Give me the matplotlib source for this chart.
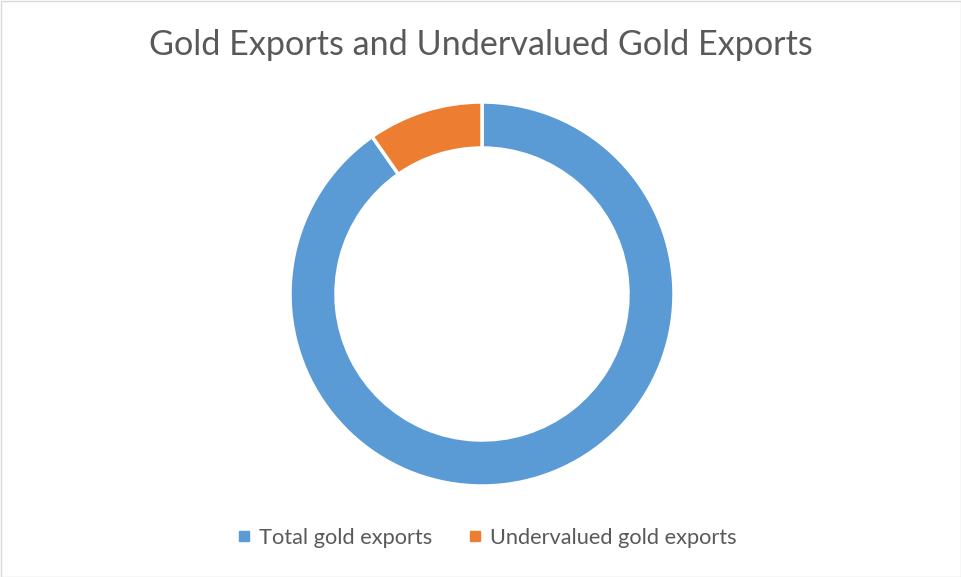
import matplotlib
matplotlib.use("Agg")
import matplotlib.pyplot as plt
from matplotlib.lines import Line2D
from matplotlib.patches import Rectangle

categories = ["Total gold exports", "Undervalued gold exports"]
values = [90.3, 9.7]
colors = ["#5B9BD5", "#ED7D31"]
title = "Gold Exports and Undervalued Gold Exports"

W, H = 962, 577
fig = plt.figure(figsize=(W / 100, H / 100), dpi=100)
ax = fig.add_axes([0, 0, 1, 1])
ax.set_xlim(0, W)
ax.set_ylim(0, H)
ax.set_aspect("equal")
ax.axis("off")

ax.pie(values, colors=colors, startangle=90, counterclock=False,
       center=(482, H - 294), radius=192,
       wedgeprops=dict(width=46, edgecolor="white", linewidth=2.5))
ax.set_xlim(0, W)
ax.set_ylim(0, H)

fig.patches.append(Rectangle((0.5 / W, 0.5 / H), 1 - 1.5 / W, 1 - 1.5 / H,
                             transform=fig.transFigure, fill=False,
                             edgecolor="#D9D9D9", linewidth=1))

fig.text(481 / W, 1 - 45 / H, title, ha="center", va="center",
         fontsize=24.6, color="#595959", family="Lato")

handles = [Line2D([], [], marker="s", linestyle="none", markersize=7,
                  markerfacecolor=c, markeredgecolor=c) for c in colors]
fig.legend(handles, categories, loc="center", bbox_to_anchor=(485 / W, 1 - 538 / H),
           ncol=2, frameon=False, handletextpad=0.2, columnspacing=1.45,
           handlelength=1.0, prop=dict(family="Lato", size=15.7),
           labelcolor="#595959")

fig.savefig("out.png", dpi=100)
